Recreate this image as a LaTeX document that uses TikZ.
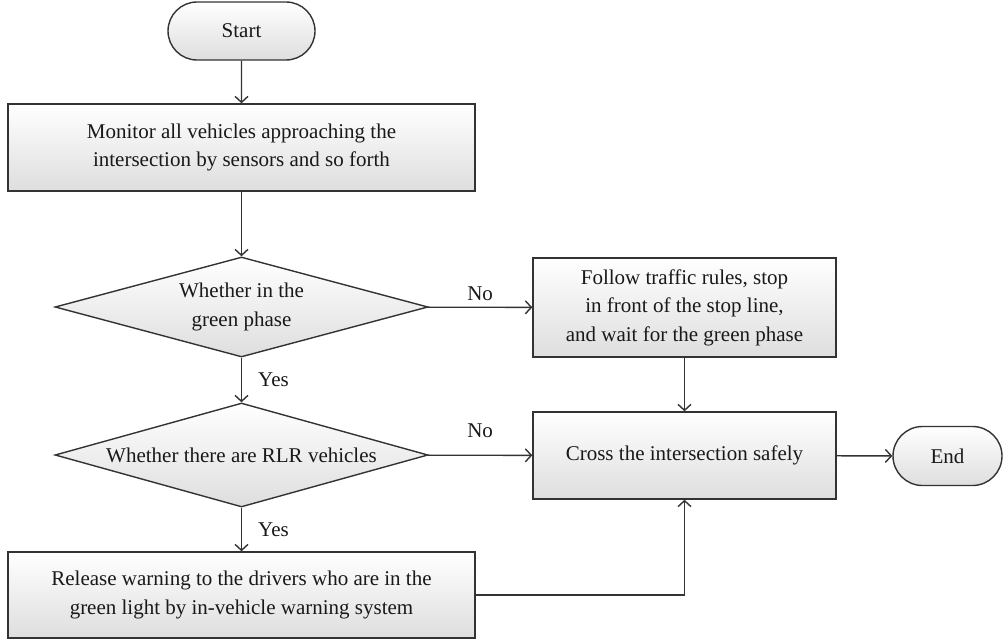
\documentclass[tikz,border=0pt]{standalone}
\usepackage{fontspec}
\setmainfont{Liberation Serif}
\usetikzlibrary{shapes.geometric,shapes.misc,arrows.meta}
\begin{document}
\begin{tikzpicture}[x=1pt,y=-1pt,
  every node/.style={font=\fontsize{21}{28.5}\selectfont, text=black!90},
  base/.style={draw=black!80, line width=1.4pt, top color=white, bottom color=black!13, inner sep=0pt, align=center},
  procbox/.style={base, rectangle},
  termbox/.style={base, rounded rectangle},
  decbox/.style={base, diamond, aspect=3.73},
  conn/.style={draw=black!80, line width=1.4pt, -{Straight Barb[length=6pt,width=13pt]}},
  lbl/.style={inner sep=1pt}]
\useasboundingbox (0,0) rectangle (1003,644);
\node[termbox, minimum width=147pt, minimum height=58pt] (start) at (241.5,31) {Start};
\node[procbox, minimum width=467pt, minimum height=87pt] (mon) at (241.5,147.5) {Monitor all vehicles approaching the\\intersection by sensors and so forth};
\node[decbox, minimum width=373pt, minimum height=100pt] (d1) at (241.5,307) {Whether in the\\green phase};
\node[procbox, minimum width=303pt, minimum height=99pt] (fol) at (684.5,307.5) {Follow traffic rules, stop\\in front of the stop line,\\and wait for the green phase};
\node[decbox, minimum width=373pt, minimum height=104pt] (d2) at (241.5,455) {Whether there are RLR vehicles};
\node[procbox, minimum width=303pt, minimum height=87pt] (cross) at (684.5,455.5) {Cross the intersection safely};
\node[termbox, minimum width=109pt, minimum height=59pt] (endn) at (947.5,456) {End};
\node[procbox, minimum width=467pt, minimum height=86pt] (rel) at (241.5,595) {Release warning to the drivers who are in the\\green light by in-vehicle warning system};
\draw[conn] (start) -- (mon);
\draw[conn] (mon) -- (d1);
\draw[conn] (d1) -- node[lbl, above=5pt] {No} (fol);
\draw[conn] (d1) -- node[lbl, right=15pt] {Yes} (d2);
\draw[conn] (fol) -- (cross);
\draw[conn] (d2) -- node[lbl, above=16pt] {No} (cross);
\draw[conn] (d2) -- node[lbl, right=15pt] {Yes} (rel);
\draw[conn] (cross) -- (endn);
\draw[conn] (rel.east) -| (cross.south);
\end{tikzpicture}
\end{document}
